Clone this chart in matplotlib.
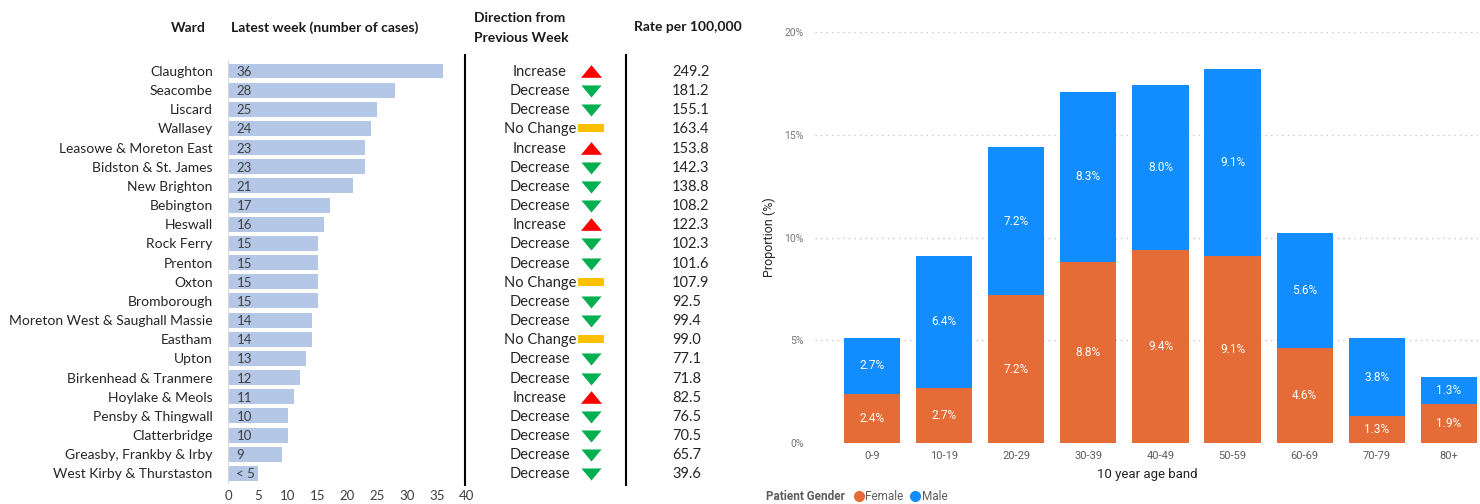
import matplotlib.pyplot as plt
import numpy as np
from matplotlib.patches import Rectangle
from matplotlib.lines import Line2D

# ---- left panel data (ward table) ----
wards = ["Claughton", "Seacombe", "Liscard", "Wallasey", "Leasowe & Moreton East",
         "Bidston & St. James", "New Brighton", "Bebington", "Heswall", "Rock Ferry",
         "Prenton", "Oxton", "Bromborough", "Moreton West & Saughall Massie", "Eastham",
         "Upton", "Birkenhead & Tranmere", "Hoylake & Meols", "Pensby & Thingwall",
         "Clatterbridge", "Greasby, Frankby & Irby", "West Kirby & Thurstaston"]
cases = [36, 28, 25, 24, 23, 23, 21, 17, 16, 15, 15, 15, 15, 14, 14, 13, 12, 11, 10, 10, 9, 5]
case_labels = ["36", "28", "25", "24", "23", "23", "21", "17", "16", "15", "15", "15", "15",
               "14", "14", "13", "12", "11", "10", "10", "9", "< 5"]
direction = ["Increase", "Decrease", "Decrease", "No Change", "Increase", "Decrease",
             "Decrease", "Decrease", "Increase", "Decrease", "Decrease", "No Change",
             "Decrease", "Decrease", "No Change", "Decrease", "Decrease", "Increase",
             "Decrease", "Decrease", "Decrease", "Decrease"]
rates = ["249.2", "181.2", "155.1", "163.4", "153.8", "142.3", "138.8", "108.2", "122.3",
         "102.3", "101.6", "107.9", "92.5", "99.4", "99.0", "77.1", "71.8", "82.5", "76.5",
         "70.5", "65.7", "39.6"]

# ---- right panel data (age bands) ----
age_bands = ["0-9", "10-19", "20-29", "30-39", "40-49", "50-59", "60-69", "70-79", "80+"]
female = [2.4, 2.7, 7.2, 8.8, 9.4, 9.1, 4.6, 1.3, 1.9]
male = [2.7, 6.4, 7.2, 8.3, 8.0, 9.1, 5.6, 3.8, 1.3]

W, H = 1480, 504
fig = plt.figure(figsize=(W / 100, H / 100), dpi=100)

def fbox(x0, y0, x1, y1):
    # pixel box (top-left origin) -> figure fraction rect
    return [x0 / W, 1 - y1 / H, (x1 - x0) / W, (y1 - y0) / H]

LF = "Lato"
dark = "#262626"

# ---------- bar chart of cases ----------
ax = fig.add_axes(fbox(228, 61.4, 467, 483))
y = np.arange(len(wards))
ax.barh(y, cases, height=0.78, color="#B4C7E7")
for yi, lab in zip(y, case_labels):
    ax.text(1.4, yi + 0.05, lab, ha="left", va="center", fontsize=9.5,
            color="#404040", family=LF)
ax.set_ylim(len(wards) - 0.5, -0.5)
ax.set_xlim(0, 40)
ax.set_xticks(range(0, 41, 5))
ax.set_yticks(y)
ax.set_yticklabels(wards, family=LF, fontsize=10, color=dark)
ax.tick_params(axis="y", length=0, pad=11)
ax.tick_params(axis="x", length=0, pad=5, labelsize=9.5, labelcolor="#404040")
for lbl in ax.get_xticklabels():
    lbl.set_family(LF)
for s in ["top", "right", "bottom"]:
    ax.spines[s].set_visible(False)
ax.spines["left"].set_color("#D9D9D9")

# ---------- direction / rate columns ----------
tab = fig.add_axes(fbox(455, 61.4, 760, 483))
tab.set_xlim(455, 760)
tab.set_ylim(len(wards) - 0.5, -0.5)
tab.axis("off")
up = [(-1, -0.6), (1, -0.6), (0, 0.6)]
down = [(-1, 0.6), (1, 0.6), (0, -0.6)]
for yi, d, r in zip(y, direction, rates):
    tab.text(540, yi + 0.05, d, ha="center", va="center", fontsize=10.5, color=dark, family=LF)
    tab.text(672, yi + 0.05, r, ha="left", va="center", fontsize=10.5, color=dark, family=LF)
    if d == "Increase":
        tab.scatter([591], [yi], marker=up, s=230, color="#FF0000", linewidths=0)
    elif d == "Decrease":
        tab.scatter([591], [yi + 0.05], marker=down, s=210, color="#00B050", linewidths=0)
    else:
        tab.add_patch(Rectangle((578, yi - 0.21), 26, 0.42, color="#FFC000", lw=0))
for xv in [465, 626]:
    tab.plot([xv, xv], [-0.84, 21.58], color="black", lw=1.5, clip_on=False)

# headers
def ftext(x, yy, s, **kw):
    fig.text(x / W, 1 - yy / H, s, family=LF, fontweight="bold", fontsize=10,
             color="#1A1A1A", va="center", **kw)

ftext(188, 28, "Ward", ha="center")
ftext(231, 28, "Latest week (number of cases)", ha="left")
ftext(474, 18, "Direction from", ha="left")
ftext(474, 38, "Previous Week", ha="left")
ftext(634, 27, "Rate per 100,000", ha="left")

# ---------- stacked column chart ----------
RF = "Roboto"
c_f, c_m = "#E66C37", "#118DFF"
ax2 = fig.add_axes(fbox(815, 32, 1480, 443))
x = np.arange(len(age_bands))
ax2.bar(x, female, width=0.78, color=c_f, zorder=3)
ax2.bar(x, male, width=0.78, bottom=female, color=c_m, zorder=3)
for xi, f, m in zip(x, female, male):
    ax2.text(xi, f / 2, f"{f:.1f}%", ha="center", va="center", color="white",
             fontsize=8.5, family=RF, zorder=4)
    ax2.text(xi, f + m / 2, f"{m:.1f}%", ha="center", va="center", color="white",
             fontsize=8.5, family=RF, zorder=4)
ax2.set_xlim(-0.79, 8.43)
ax2.set_ylim(0, 20)
ax2.set_yticks([0, 5, 10, 15, 20])
ax2.set_yticklabels(["0%", "5%", "10%", "15%", "20%"], family=RF)
ax2.set_xticks(x)
ax2.set_xticklabels(age_bands, family=RF)
ax2.tick_params(axis="y", length=0, pad=8, labelsize=7.5, labelcolor="#777777")
ax2.tick_params(axis="x", length=0, pad=6, labelsize=8, labelcolor="#605E5C")
ax2.yaxis.grid(True, color="#C8C8C8", lw=1, linestyle=(0, (1, 3)), zorder=0)
for s in ax2.spines.values():
    s.set_visible(False)
ax2.set_xlabel("10 year age band", family=RF, fontsize=9.5, color="#252423", labelpad=5)
ax2.set_ylabel("Proportion (%)", family=RF, fontsize=9, color="#252423", labelpad=6)

# legend
fig.text(766 / W, 1 - 497 / H, "Patient Gender", family=RF, fontweight="bold",
         fontsize=8.5, color="#605E5C", va="center", ha="left")
handles = [Line2D([], [], marker="o", ls="", color=c_f, markersize=7),
           Line2D([], [], marker="o", ls="", color=c_m, markersize=7)]
leg = fig.legend(handles, ["Female", "Male"], loc="center left",
                 bbox_to_anchor=(853 / W, 1 - 497 / H), ncol=2, frameon=False,
                 handletextpad=0.05, columnspacing=0.5, handlelength=1.0,
                 prop={"family": RF, "size": 8.5}, borderpad=0, borderaxespad=0)
for t in leg.get_texts():
    t.set_color("#605E5C")

fig.savefig("out.png", dpi=100)
